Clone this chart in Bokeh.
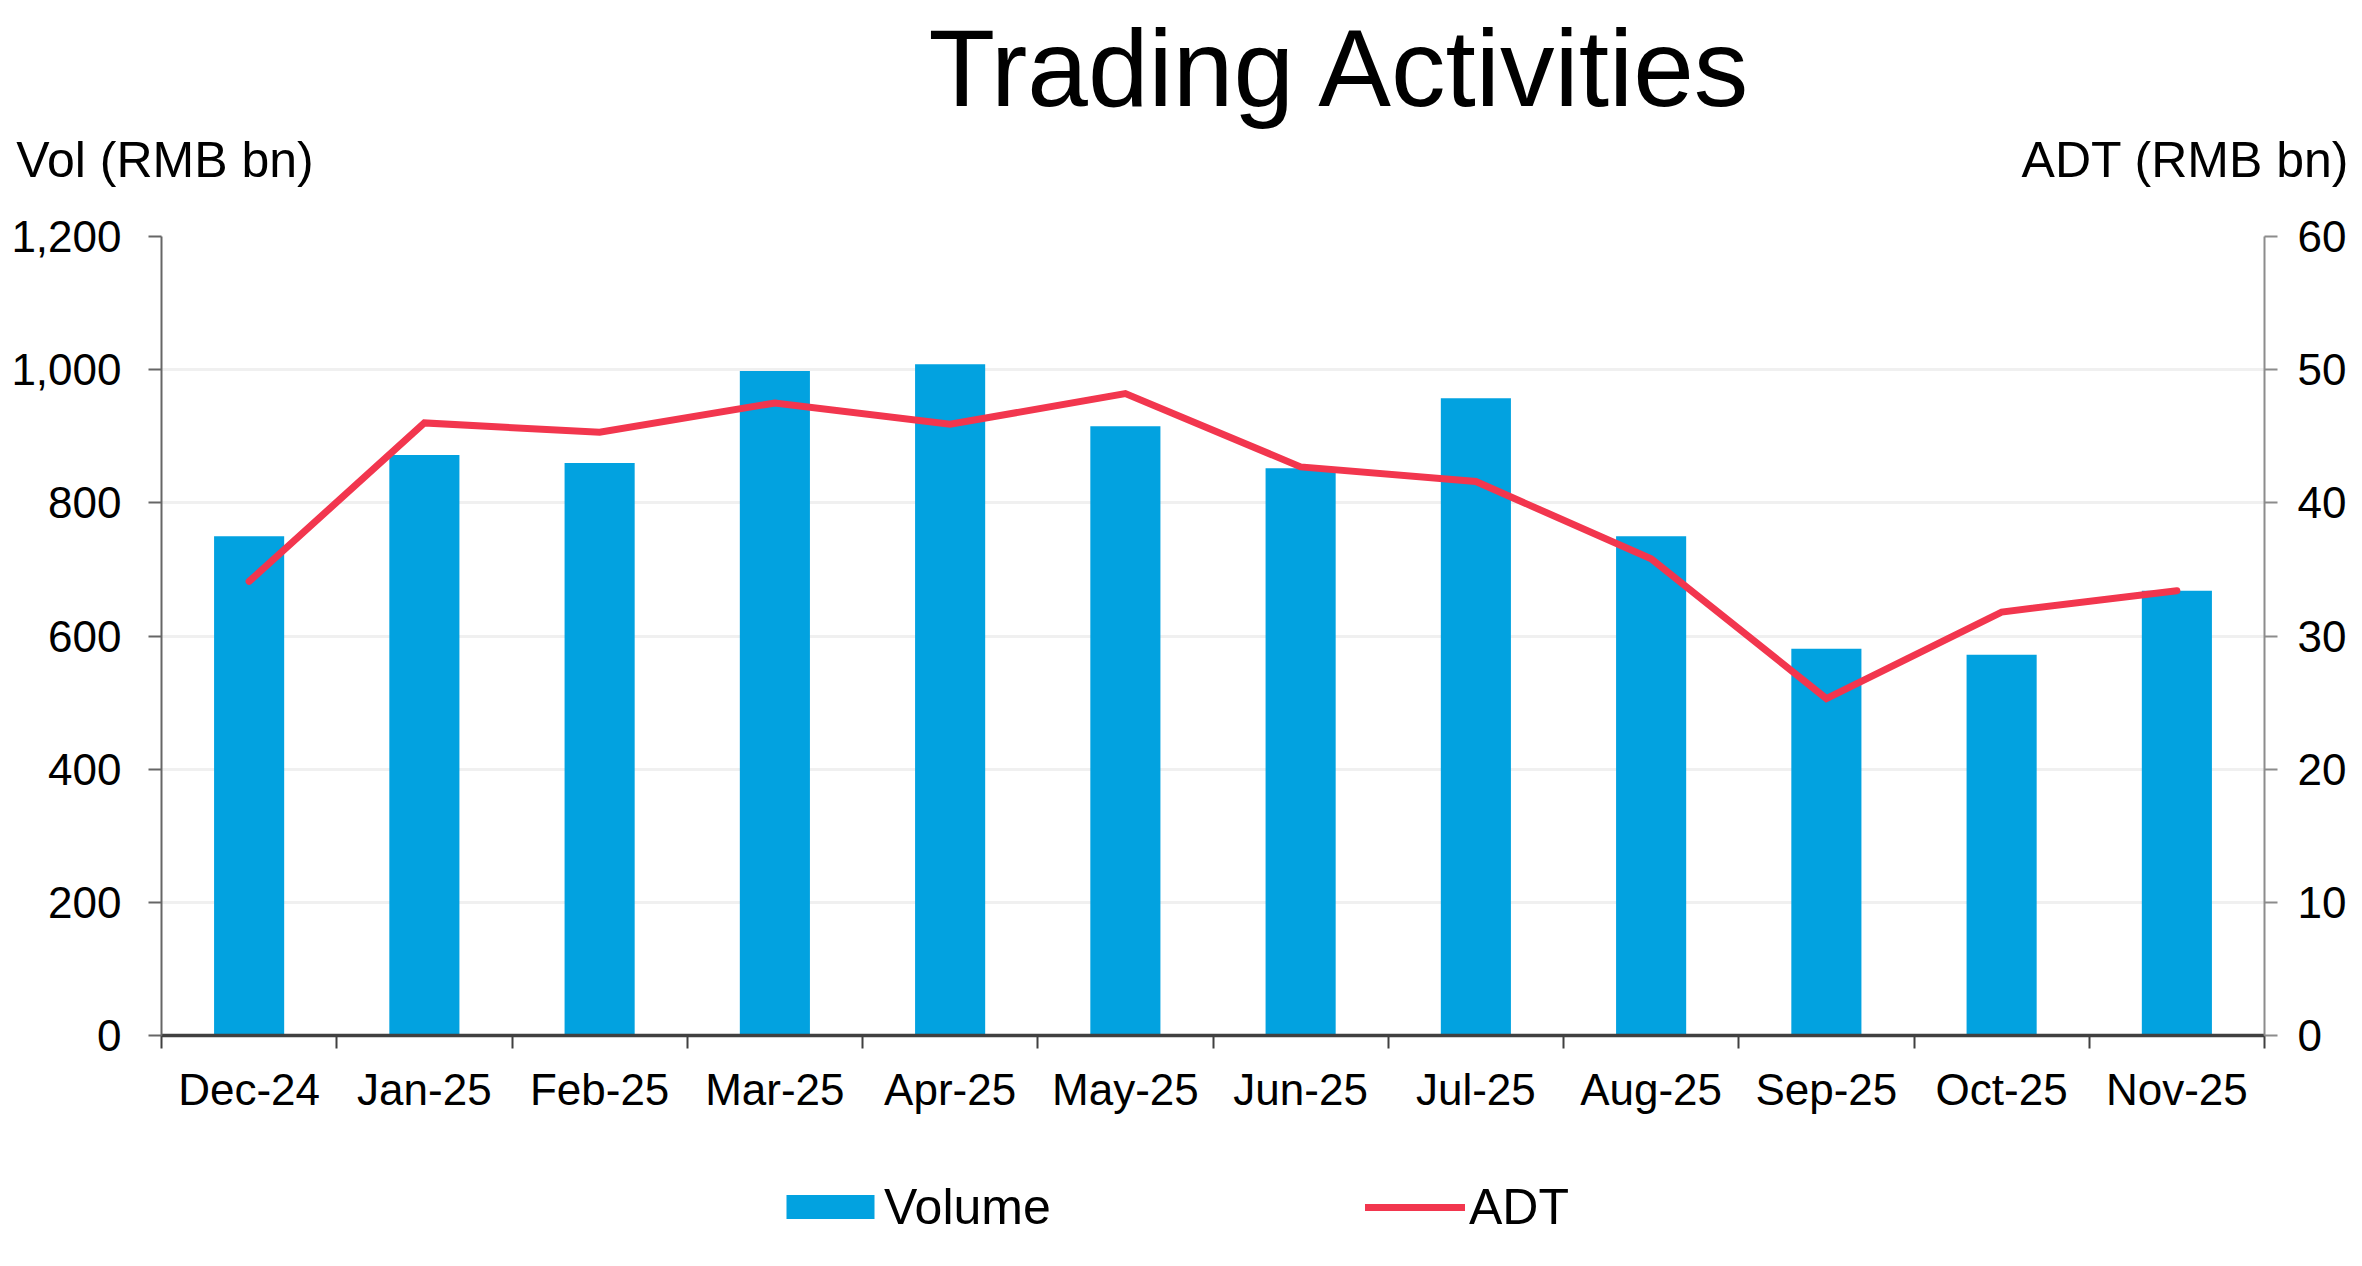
from bokeh.plotting import figure
from bokeh.layouts import column
from bokeh.models import (Range1d, LinearAxis, FixedTicker, NumeralTickFormatter,
                          Legend, LegendItem, ColumnDataSource)
from bokeh.embed import file_html
from bokeh.resources import INLINE

# ---------------- data ----------------
months = ["Dec-24", "Jan-25", "Feb-25", "Mar-25", "Apr-25", "May-25",
          "Jun-25", "Jul-25", "Aug-25", "Sep-25", "Oct-25", "Nov-25"]
volume = [750, 872, 860, 998, 1008, 915, 852, 957, 750, 581, 572, 668]
adt = [34.1, 46.0, 45.3, 47.5, 45.9, 48.2, 42.7, 41.6, 35.8, 25.3, 31.8, 33.4]
vol_ticks = [0, 200, 400, 600, 800, 1000, 1200]
adt_ticks = [0, 10, 20, 30, 40, 50, 60]

title_text = "Trading Activities"
left_title = "Vol (RMB bn)"
right_title = "ADT (RMB bn)"
series_names = ["Volume", "ADT"]

# ---------------- style / geometry ----------------
FONT = "Liberation Sans"
BLUE = "#02A2E0"
RED = "#F2364E"
W, H = 2358, 1262
HM = 1150                                # height of the main chart
FL, FR, FT, FB = 161, 2264, 236, 1035    # plot frame in page pixels
N = len(months)

xs = [i + 0.5 for i in range(N)]
src = ColumnDataSource(dict(x=xs, month=months, volume=volume, adt=adt))

p = figure(width=W, height=HM, x_range=Range1d(0, N),
           y_range=Range1d(0, vol_ticks[-1]),
           output_backend="svg", toolbar_location=None,
           min_border_left=FL, min_border_right=W - FR,
           min_border_top=FT, min_border_bottom=HM - FB)
p.extra_y_ranges = {"adt": Range1d(0, adt_ticks[-1])}
p.extra_x_ranges = {"hdr": Range1d(FL, FR)}
p.outline_line_color = None
xa = p.xaxis[0]
ya = p.yaxis[0]

bars = p.vbar(x="x", top="volume", bottom=0, width=0.4, source=src,
              fill_color=BLUE, line_color=None)
line = p.line(x="x", y="adt", source=src, y_range_name="adt",
              line_color=RED, line_width=7, line_join="miter", line_cap="round")

p.xgrid.grid_line_color = None
p.ygrid.grid_line_color = "#f0f0f0"
p.ygrid.grid_line_width = 3

# ---- title ----
p.title.text = title_text
p.title.align = "left"
p.title.offset = 767
p.title.text_font = FONT
p.title.text_font_size = "109px"
p.title.text_font_style = "normal"
p.title.text_color = "black"
p.title.standoff = 0

# ---- axis titles as labels of a bare top axis ----
ta = LinearAxis(x_range_name="hdr", ticker=FixedTicker(ticks=[164.5, 2185]))
ta.major_label_overrides = {164.5: left_title, 2185: right_title}
ta.axis_line_color = None
ta.major_tick_line_color = None
ta.minor_tick_line_color = None
ta.major_tick_out = 0
ta.major_tick_in = 0
ta.major_label_standoff = 49
ta.major_label_text_font = FONT
ta.major_label_text_font_size = "50px"
ta.major_label_text_color = "black"
p.add_layout(ta, "above")

# ---- bottom axis: labels at centres, ticks at boundaries ----
xa.ticker = FixedTicker(ticks=xs, minor_ticks=list(range(N + 1)))
xa.major_label_overrides = {x: m for x, m in zip(xs, months)}
xa.major_tick_line_color = None
xa.major_tick_out = 13
xa.major_tick_in = 0
xa.minor_tick_out = 13
xa.minor_tick_in = 0
xa.minor_tick_line_color = "#404040"
xa.minor_tick_line_width = 2
xa.axis_line_color = "#404040"
xa.axis_line_width = 3.5
xa.major_label_text_font = FONT
xa.major_label_text_font_size = "44px"
xa.major_label_text_color = "black"
xa.major_label_standoff = 16

# ---- left axis ----
ya.ticker = FixedTicker(ticks=vol_ticks)
ya.formatter = NumeralTickFormatter(format="0,0")
ya.major_tick_out = 13
ya.major_tick_in = 0
ya.minor_tick_line_color = None
ya.axis_line_color = "#666666"
ya.axis_line_width = 2
ya.major_tick_line_color = "#666666"
ya.major_tick_line_width = 2
ya.major_label_text_font = FONT
ya.major_label_text_font_size = "44px"
ya.major_label_text_color = "black"
ya.major_label_standoff = 27

# ---- right axis ----
ra = LinearAxis(y_range_name="adt", ticker=FixedTicker(ticks=adt_ticks))
ra.major_tick_out = 13
ra.major_tick_in = 0
ra.minor_tick_line_color = None
ra.axis_line_color = "#8c8c8c"
ra.axis_line_width = 2
ra.major_tick_line_color = "#8c8c8c"
ra.major_tick_line_width = 2
ra.major_label_text_font = FONT
ra.major_label_text_font_size = "44px"
ra.major_label_text_color = "black"
ra.major_label_standoff = 20
p.add_layout(ra, "right")

# ---------------- footer with the legend ----------------
f = figure(width=W, height=H - HM, x_range=Range1d(0, 1), y_range=Range1d(0, 1),
           output_backend="svg", toolbar_location=None,
           x_axis_type=None, y_axis_type=None, min_border=0)
f.outline_line_color = None
f.grid.visible = False
# key renderers (hidden; they only provide the legend swatches)
kb = f.vbar(x="x", top="volume", bottom=0, width=0.4, source=src,
            fill_color=BLUE, line_color=BLUE, line_width=8, line_join="miter",
            visible=False)
kl = f.line(x="x", y="adt", source=src, line_color=RED, line_width=7,
            line_cap="round", visible=False)
legend = Legend(items=[LegendItem(label=series_names[0], renderers=[kb]),
                       LegendItem(label=series_names[1], renderers=[kl])],
                orientation="horizontal", location=(780 - FL, 26),
                padding=0, margin=0, spacing=305, label_width=176,
                glyph_width=100, glyph_height=24, label_standoff=4,
                label_text_font=FONT, label_text_font_size="50px",
                label_text_color="black",
                inactive_fill_alpha=0,
                border_line_color=None, background_fill_alpha=0)
f.add_layout(legend, "center")

layout = column(p, f, spacing=0)
open("out.html", "w").write(file_html(layout, INLINE, title="Trading Activities"))
